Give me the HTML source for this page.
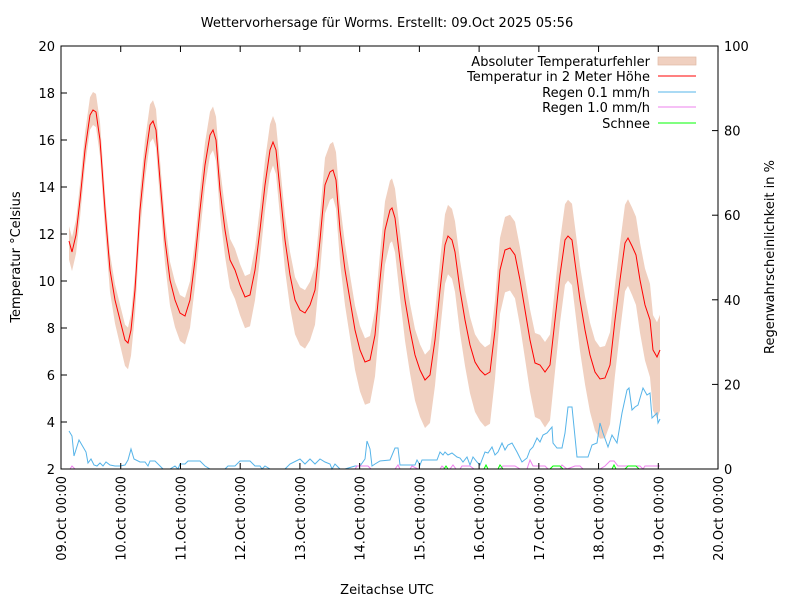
<!DOCTYPE html>
<html><head><meta charset="utf-8"><style>
body{margin:0;background:#fff}
svg{display:block;font-family:"DejaVu Sans","Liberation Sans",sans-serif;font-size:13px}
</style></head><body>
<svg id="s" width="800" height="600" viewBox="0 0 800 600" xmlns="http://www.w3.org/2000/svg">
<rect width="800" height="600" fill="#fff"/>
<g id="band"></g>
<g id="lines"></g>
<rect x="61" y="46" width="657" height="423" fill="none" stroke="#000" stroke-width="1"/>
<g id="ticks" stroke="#000"></g>
<g id="labels"></g>
<text x="387" y="27" text-anchor="middle">Wettervorhersage für Worms. Erstellt: 09.Oct 2025 05:56</text>
<text x="387" y="594" text-anchor="middle">Zeitachse UTC</text>
<text transform="translate(20,257) rotate(-90)" text-anchor="middle">Temperatur °Celsius</text>
<text transform="translate(774,257) rotate(-90)" text-anchor="middle">Regenwahrscheinlichkeit in %</text>
<g text-anchor="end">
<text x="650" y="66">Absoluter Temperaturfehler</text>
<text x="650" y="81">Temperatur in 2 Meter Höhe</text>
<text x="650" y="97">Regen 0.1 mm/h</text>
<text x="650" y="112">Regen 1.0 mm/h</text>
<text x="650" y="128">Schnee</text>
</g>
<rect x="658" y="57" width="38" height="8" fill="#f0d0c0" stroke="#e0b8a4" stroke-width="0.7"/>
<line x1="658" y1="76" x2="696" y2="76" stroke="#f00"/>
<line x1="658" y1="92" x2="696" y2="92" stroke="#56b4e9"/>
<line x1="658" y1="107" x2="696" y2="107" stroke="#ee82ee"/>
<line x1="658" y1="123" x2="696" y2="123" stroke="#0f0"/>
</svg>
<script>
var NS="http://www.w3.org/2000/svg";
function el(p,t,a,txt){var e=document.createElementNS(NS,t);for(var k in a)e.setAttribute(k,a[k]);if(txt!==undefined)e.textContent=txt;document.getElementById(p).appendChild(e);return e;}
var T=[69,241,72,252,76,235,80,200,85,150,90,115,93,110,96,112,100,140,105,210,110,270,115,300,120,320,125,340,128,343,131,330,135,290,140,210,145,160,150,125,153,121,156,130,160,180,165,240,170,280,175,300,180,313,185,316,190,300,195,260,200,210,205,165,210,135,213,130,216,140,220,190,225,230,230,260,235,270,240,285,245,297,250,295,255,270,260,230,265,185,270,150,273,142,276,150,280,190,285,240,290,275,295,300,300,310,305,313,310,305,315,290,320,240,325,185,330,172,333,170,336,180,340,230,345,270,350,300,355,330,360,350,365,362,370,360,375,335,380,280,385,230,390,210,392,208,395,218,400,260,405,300,410,330,415,355,420,370,425,380,430,375,435,340,440,290,445,245,448,236,452,240,455,252,460,290,465,320,470,345,475,362,480,370,485,375,490,372,495,330,500,270,505,250,510,248,515,255,520,280,525,310,530,340,535,363,540,365,545,372,550,365,555,320,560,275,565,240,568,236,572,240,576,270,580,300,585,330,590,355,595,372,600,379,605,378,610,365,615,320,620,280,625,243,628,238,632,246,636,255,640,280,645,305,650,320,653,350,657,357,660,350];
var up=[],lo=[],red=[];
for(var i=0;i<T.length;i+=2){var x=T[i],y=T[i+1];var w=14+(x-69)*0.04;var f=(y-120)/260;f=Math.max(0,Math.min(1,f));
up.push(x+","+(y-w*(1.2-0.3*f)).toFixed(1));lo.push(x+","+(y+w*(1.0+0.7*f)).toFixed(1));red.push(x+","+y);}
el("band","polygon",{points:up.concat(lo.reverse()).join(" "),fill:"#f0d0c0"});
var B="69,431 72,436 74,456 79,440 86,452 88,463 91,459 94,465 97,466 100,463 103,466 106,462 110,465 115,466 120,466 125,465 128,460 131,449 134,459 140,462 145,462 148,466 150,461 155,461 158,464 163,469 170,469 175,466 178,469 180,464 185,464 188,461 200,461 205,466 210,469 225,469 228,466 235,466 240,461 250,461 255,466 260,466 262,469 265,466 270,469 285,469 290,464 300,459 305,464 310,459 315,464 320,459 325,462 330,464 332,469 335,464 340,469 345,469 355,466 360,466 365,459 367,441 370,449 372,466 375,464 380,461 390,460 395,448 398,448 400,465 415,465 417,460 420,465 422,460 437,460 440,452 443,455 445,452 448,455 452,453 457,457 460,458 463,462 467,457 470,465 473,457 477,462 480,465 485,452 488,453 492,447 495,455 498,452 502,443 505,450 508,445 512,443 517,452 522,462 527,458 530,450 533,447 537,438 540,442 543,435 547,433 552,427 553,443 557,448 562,448 565,433 568,407 572,407 577,457 588,457 592,445 597,443 600,423 603,433 608,447 612,435 617,443 622,413 627,390 629,388 632,410 635,407 638,405 643,388 647,395 650,393 652,418 657,413 658,423 660,419";
el("lines","polyline",{points:B,fill:"none",stroke:"#56b4e9","stroke-width":1});
var P="70,469 72,466 75,469 355,469 357,466 368,466 371,469 395,469 398,465 400,469 410,469 412,466 418,469 440,469 442,466 445,469 450,469 453,465 456,469 460,469 462,466 470,466 474,469 500,469 503,466 515,466 520,469 527,469 530,460 533,466 545,466 548,469 560,469 562,465 567,469 575,466 580,466 583,469 600,469 605,466 610,461 614,461 618,466 640,466 643,469 645,466 655,466 660,466";
el("lines","polyline",{points:P,fill:"none",stroke:"#ee82ee","stroke-width":1});
var G=["444,469 446,466 448,469","484,469 486,465 488,469","498,469 500,465 503,469","520,469 525,469","550,469 553,466 560,466 563,469","612,469 614,465 616,469","625,469 628,466 636,466 639,469"];
G.forEach(function(g){el("lines","polyline",{points:g,fill:"none",stroke:"#0f0","stroke-width":1});});
el("lines","polyline",{points:red.join(" "),fill:"none",stroke:"#f00","stroke-width":1});
for(var v=2;v<=20;v+=2){var y=469-(v-2)*23.5;el("ticks","line",{x1:61,y1:y,x2:67,y2:y});el("labels","text",{x:55,y:y+5,"text-anchor":"end"},v);}
for(var p=0;p<=100;p+=20){var y=469-p*4.23;el("ticks","line",{x1:712,y1:y,x2:718,y2:y});el("labels","text",{x:724,y:y+5},p);}
var d=["09","10","11","12","13","14","15","16","17","18","19","20"];
for(var i=0;i<12;i++){var x=61+i*59.73;el("ticks","line",{x1:x,y1:469,x2:x,y2:463});el("ticks","line",{x1:x,y1:46,x2:x,y2:52});
el("labels","text",{transform:"translate("+(x+5)+",476) rotate(-90)","text-anchor":"end"},d[i]+".Oct 00:00");}
</script>
</body></html>
